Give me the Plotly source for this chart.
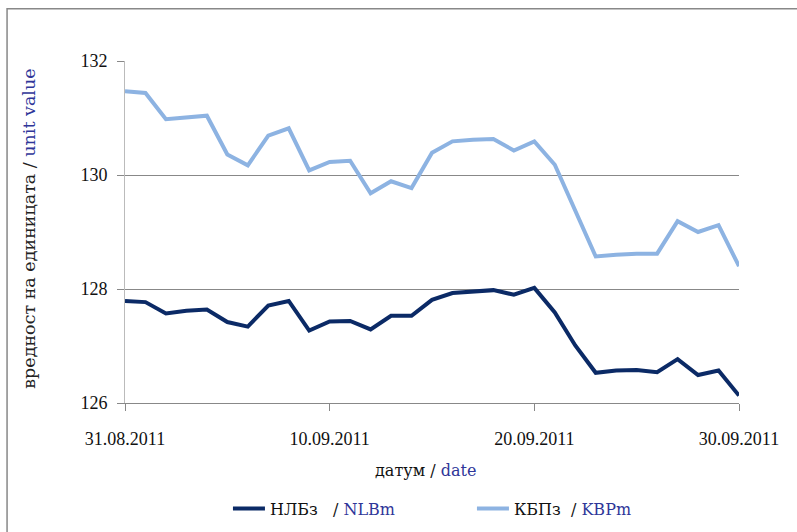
import plotly.graph_objects as go
import pandas as pd

dates = pd.date_range("2011-08-31", "2011-09-30", freq="D").strftime("%Y-%m-%d").tolist()

nlbm = [127.79, 127.77, 127.57, 127.62, 127.64, 127.42, 127.34, 127.71, 127.79, 127.27,
        127.43, 127.44, 127.29, 127.53, 127.53, 127.81, 127.93, 127.96, 127.98, 127.90,
        128.02, 127.59, 127.01, 126.53, 126.57, 126.58, 126.54, 126.77, 126.49, 126.57,
        126.13]

kbpm = [131.47, 131.44, 130.98, 131.01, 131.04, 130.36, 130.17, 130.69, 130.82, 130.08,
        130.23, 130.25, 129.68, 129.89, 129.77, 130.39, 130.59, 130.62, 130.63, 130.43,
        130.59, 130.18, 129.36, 128.57, 128.60, 128.62, 128.62, 129.19, 129.00, 129.12,
        128.40]

x_tickvals = ["2011-08-31", "2011-09-10", "2011-09-20", "2011-09-30"]
x_ticktext = ["31.08.2011", "10.09.2011", "20.09.2011", "30.09.2011"]
y_tickvals = [126, 128, 130, 132]

BLUE_TXT = "#2F3699"
FONT = "Liberation Serif"
FONT2 = "DejaVu Serif"
TXT = "#111111"

fig = go.Figure()
fig.add_trace(go.Scatter(
    x=dates, y=nlbm, mode="lines",
    name=f"НЛБз   / <span style='color:{BLUE_TXT}'>NLBm</span>",
    line=dict(color="#0B2A66", width=4)))
fig.add_trace(go.Scatter(
    x=dates, y=kbpm, mode="lines",
    name=f"КБПз  / <span style='color:{BLUE_TXT}'>KBPm</span>",
    line=dict(color="#8DB3E2", width=4)))

W, H = 797, 532
L, R, T, B = 125, 739.3, 61.3, 403.3

fig.update_layout(
    width=W, height=H,
    margin=dict(l=L, r=W - R, t=T, b=H - B, autoexpand=False),
    paper_bgcolor="white", plot_bgcolor="white",
    font=dict(family=FONT, size=17, color=TXT),
    showlegend=True,
    legend=dict(orientation="h", x=(228 - L) / (R - L), xanchor="left",
                y=(B - 492) / (B - T), yanchor="top",
                font=dict(family=FONT2, size=16, color=TXT),
                entrywidth=197, entrywidthmode="pixels", itemwidth=32,
                bgcolor="rgba(0,0,0,0)"),
    xaxis=dict(
        type="date", range=["2011-08-31", "2011-09-30"],
        tickvals=x_tickvals, ticktext=x_ticktext,
        showgrid=False, showline=True, linecolor="#888888", linewidth=1,
        ticks="outside", ticklen=7, tickcolor="#888888",
        ticklabelstandoff=12,
        tickfont=dict(family=FONT, size=18, color=TXT),
        zeroline=False),
    yaxis=dict(
        range=[126, 132], tickvals=y_tickvals,
        showgrid=True, gridcolor="#888888", gridwidth=1,
        showline=True, linecolor="#BBBBBB", linewidth=1,
        ticks="outside", ticklen=7, tickcolor="#888888",
        ticklabelstandoff=6,
        tickfont=dict(family=FONT, size=18, color=TXT),
        zeroline=False),
    annotations=[
        dict(text=f"датум / <span style='color:{BLUE_TXT}'>date</span>",
             xref="paper", yref="paper",
             x=(426 - L) / (R - L), y=(B - 471) / (B - T),
             xanchor="center", yanchor="middle", showarrow=False,
             font=dict(family=FONT2, size=16, color=TXT)),
        dict(text=f"вредност на единицата / <span style='color:{BLUE_TXT}'>unit value</span>",
             xref="paper", yref="paper",
             x=(29 - L) / (R - L), y=(B - 229) / (B - T),
             xanchor="center", yanchor="middle", textangle=-90, showarrow=False,
             font=dict(family=FONT2, size=17.5, color="#222222")),
    ],
    shapes=[
        dict(type="rect", xref="paper", yref="paper",
             x0=(7 - L) / (R - L), x1=2.0, y0=-1.0, y1=(B - 9) / (B - T),
             line=dict(color="#888888", width=1.5), fillcolor="rgba(0,0,0,0)", layer="below"),
    ],
)

fig.write_html("out.html", config={"displayModeBar": False},
               post_script="document.body.style.margin='0px';")
